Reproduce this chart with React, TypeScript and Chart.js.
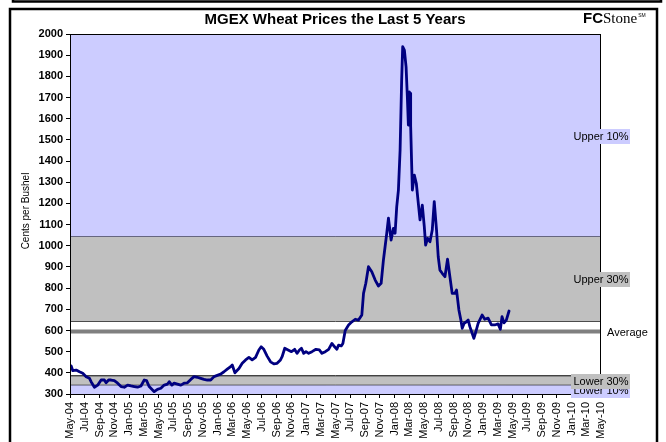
import React, { useEffect, useRef } from 'react';
import { Chart, registerables } from 'chart.js';

Chart.register(...registerables);

// ---- Data ----
const tickLabels = [
  'May-04', 'Jul-04', 'Sep-04', 'Nov-04', 'Jan-05', 'Mar-05', 'May-05', 'Jul-05', 'Sep-05', 'Nov-05',
  'Jan-06', 'Mar-06', 'May-06', 'Jul-06', 'Sep-06', 'Nov-06', 'Jan-07', 'Mar-07', 'May-07', 'Jul-07',
  'Sep-07', 'Nov-07', 'Jan-08', 'Mar-08', 'May-08', 'Jul-08', 'Sep-08', 'Nov-08', 'Jan-09', 'Mar-09',
  'May-09', 'Jul-09', 'Sep-09', 'Nov-09', 'Jan-10', 'Mar-10', 'May-10',
];

// months elapsed since May-04
const priceMonths = [
  0.16, 0.38, 0.84, 1.28, 1.73, 2.19, 2.64, 2.86, 3.31, 3.76, 4.22, 4.66, 4.89, 5.24, 5.57, 6.01, 6.46,
  6.92, 7.36, 7.81, 8.27, 8.72, 9.16, 9.62, 10.07, 10.38, 10.74, 11.19, 11.42, 11.86, 12.32, 12.77, 13.22,
  13.45, 13.81, 14.12, 14.57, 15.03, 15.47, 15.92, 16.38, 16.82, 17.27, 17.73, 18.18, 18.62, 19.08, 19.53,
  19.97, 20.43, 20.88, 21.32, 21.78, 22.0, 22.36, 22.91, 23.35, 23.81, 24.26, 24.7, 25.16, 25.61, 25.92,
  26.28, 26.73, 27.19, 27.64, 28.08, 28.54, 28.76, 29.12, 29.57, 30.03, 30.47, 30.78, 31.11, 31.38, 31.69,
  32.0, 32.36, 32.81, 33.35, 33.81, 34.16, 34.62, 35.07, 35.51, 35.88, 36.19, 36.42, 36.78, 37.0, 37.32,
  37.77, 38.22, 38.68, 39.12, 39.57, 39.8, 40.11, 40.47, 40.92, 41.38, 41.82, 42.19, 42.5, 42.95, 43.18,
  43.54, 43.85, 44.08, 44.3, 44.53, 44.76, 44.97, 45.11, 45.34, 45.57, 45.74, 45.88, 46.01, 46.11, 46.19,
  46.32, 46.42, 46.69, 46.96, 47.23, 47.46, 47.77, 48.04, 48.22, 48.49, 48.81, 49.12, 49.39, 49.7, 49.93,
  50.16, 50.47, 50.84, 51.19, 51.51, 51.82, 52.19, 52.41, 52.73, 53.0, 53.18, 53.45, 53.76, 53.99, 54.22,
  54.53, 54.76, 55.03, 55.34, 55.88, 56.24, 56.69, 57.14, 57.59, 58.04, 58.35, 58.58, 58.85, 59.16, 59.53,
];

const prices = [
  432, 410, 413, 405, 398, 382, 374, 358, 332, 342, 366, 366, 353, 366, 366, 363, 351,
  335, 332, 342, 338, 335, 332, 338, 366, 363, 335, 319, 311, 322, 327, 342, 347,
  358, 342, 351, 347, 342, 351, 353, 369, 382, 379, 374, 369, 366, 366, 382,
  388, 394, 405, 417, 429, 437, 400, 420, 445, 461, 473, 461, 473, 508, 523,
  511, 479, 452, 442, 445, 461, 476, 516, 508, 500, 511, 492, 508, 516, 492,
  500, 492, 500, 511, 508, 492, 500, 511, 539, 523, 511, 531, 527, 539, 600,
  626, 641, 653, 649, 673, 775, 823, 901, 877, 838, 810, 823, 933, 1059, 1130,
  1027, 1082, 1059, 1184, 1263, 1452, 1782, 1940, 1924, 1845, 1705, 1570, 1727, 1720, 1567,
  1393, 1263, 1334, 1294, 1200, 1122, 1192, 1090, 1003, 1035, 1019, 1074, 1208, 1074, 948,
  885, 870, 854, 937, 854, 775, 775, 791, 697, 649, 610, 634, 641, 649, 618,
  587, 563, 594, 634, 673, 653, 658, 626, 626, 631, 606, 665, 636, 649, 692,
];

const bandNames = ['Upper 10%', 'Upper 30%', 'Lower 30%', 'Lower 10%'];
const bandTops = [2000, 1044, 386, 344];
const bandBottoms = [1044, 643, 344, 300];
const averagePrice = 595;
const averageLabel = 'Average';

const xMin = 0;
const xMax = 72;
const yMin = 300;
const yMax = 2000;

const titleText = 'MGEX Wheat Prices the Last 5 Years';
const yTitle = 'Cents per Bushel';

// ---- Styles ----
const LAVENDER = '#CCCCFF';
const GRAY = '#C0C0C0';
const bandColors = [LAVENDER, GRAY, GRAY, LAVENDER];
const FONT = '"Liberation Sans", Arial, Helvetica, sans-serif';

const decorPlugin = {
  id: 'decor',
  afterDatasetsDraw(chart: any) {
    const { ctx, chartArea: a } = chart;
    const y = chart.scales.y;
    ctx.save();
    // plot border
    ctx.strokeStyle = '#000';
    ctx.lineWidth = 1;
    ctx.strokeRect(a.left + 0.5, a.top + 0.5, a.right - a.left - 1, a.bottom - a.top);

    // band labels on the right edge
    ctx.font = `11px ${FONT}`;
    ctx.textAlign = 'center';
    ctx.textBaseline = 'middle';
    for (let i = bandNames.length - 1; i >= 0; i--) {
      const mid = y.getPixelForValue((bandTops[i] + bandBottoms[i]) / 2) + (i >= 2 ? 1.5 : 1);
      const w = ctx.measureText(bandNames[i]).width + 4;
      const cx = a.right;
      ctx.fillStyle = bandColors[i];
      ctx.fillRect(Math.round(cx - w / 2), Math.round(mid - 7.5), Math.round(w), 15);
      ctx.fillStyle = '#000';
      ctx.fillText(bandNames[i], cx, mid + 0.5);
    }
    ctx.textAlign = 'left';
    ctx.fillText(averageLabel, a.right + 6, y.getPixelForValue(averagePrice) + 1);
    ctx.restore();
  },
  afterDraw(chart: any) {
    const { ctx, chartArea: a } = chart;
    ctx.save();
    // title
    ctx.fillStyle = '#000';
    ctx.font = `bold 15px ${FONT}`;
    ctx.textAlign = 'center';
    ctx.textBaseline = 'alphabetic';
    ctx.fillText(titleText, 335, 24);

    // logo
    ctx.textAlign = 'left';
    ctx.font = `900 15px ${FONT}`;
    ctx.fillText('FC', 583, 23);
    const fcw = ctx.measureText('FC').width;
    ctx.font = `15px "Liberation Serif", "Times New Roman", serif`;
    ctx.fillText('Stone', 583 + fcw, 23);
    const sw = ctx.measureText('Stone').width;
    ctx.font = `5px ${FONT}`;
    ctx.fillText('SM', 583 + fcw + sw + 1, 17);

    // y-axis title
    ctx.font = `10px ${FONT}`;
    ctx.textAlign = 'center';
    ctx.textBaseline = 'middle';
    ctx.translate(26, (a.top + a.bottom) / 2 - 3);
    ctx.rotate(-Math.PI / 2);
    ctx.fillText(yTitle, 0, 0);
    ctx.restore();

    // frames
    ctx.save();
    ctx.strokeStyle = '#000';
    ctx.lineWidth = 2.5;
    ctx.strokeRect(10, 9, 647, 460);
    ctx.beginPath();
    ctx.moveTo(13, -5);
    ctx.lineTo(13, 1.5);
    ctx.lineTo(661, 1.5);
    ctx.lineTo(661, -5);
    ctx.stroke();
    ctx.restore();
  },
};

export default function App() {
  const ref = useRef<HTMLCanvasElement | null>(null);

  useEffect(() => {
    if (!ref.current) return;
    const flat = (v: number) => [{ x: xMin, y: v }, { x: xMax, y: v }];
    const bandSets: any[] = [];
    bandNames.forEach((name, i) => {
      bandSets.push({
        label: name,
        data: flat(bandTops[i]),
        borderColor: '#000',
        borderWidth: 1,
        backgroundColor: bandColors[i],
        fill: { value: bandBottoms[i] },
        pointRadius: 0,
      });
      bandSets.push({
        label: name + ' bottom',
        data: flat(bandBottoms[i]),
        borderColor: '#000',
        borderWidth: 1,
        fill: false,
        pointRadius: 0,
      });
    });

    const chart = new Chart(ref.current, {
      type: 'line',
      data: {
        datasets: [
          {
            label: 'MGEX Wheat',
            data: priceMonths.map((m, i) => ({ x: m, y: prices[i] })),
            borderColor: '#000080',
            borderWidth: 2.8,
            borderJoinStyle: 'round',
            borderCapStyle: 'round',
            pointRadius: 0,
            tension: 0,
            fill: false,
          },
          {
            label: averageLabel,
            data: flat(averagePrice),
            borderColor: '#808080',
            borderWidth: 4,
            pointRadius: 0,
            fill: false,
          },
          ...bandSets,
        ],
      },
      plugins: [decorPlugin],
      options: {
        responsive: false,
        animation: false,
        devicePixelRatio: 1,
        layout: { padding: { left: 12, right: 65, top: 34, bottom: 0 } },
        plugins: {
          legend: { display: false },
          tooltip: { enabled: false },
          title: { display: false },
        },
        events: [],
        scales: {
          x: {
            type: 'linear',
            min: xMin,
            max: xMax,
            afterFit: (s: any) => {
              s.height = 48;
            },
            afterBuildTicks: (s: any) => {
              s.ticks = tickLabels.map((_, i) => ({ value: i * 2 }));
            },
            ticks: {
              autoSkip: false,
              maxRotation: 90,
              minRotation: 90,
              padding: 4,
              color: '#000',
              font: { family: FONT, size: 11 },
              callback: (v: any) => tickLabels[Math.round(Number(v) / 2)] ?? '',
            },
            grid: { drawOnChartArea: false, drawTicks: true, tickLength: 4, color: '#000' },
            border: { color: '#000', width: 1 },
          },
          y: {
            type: 'linear',
            min: yMin,
            max: yMax,
            afterFit: (s: any) => {
              s.width = 58;
            },
            ticks: {
              stepSize: 100,
              padding: 3,
              color: '#000',
              font: { family: FONT, size: 11, weight: 'bold' },
              callback: (v: any) => String(v),
            },
            grid: { drawOnChartArea: false, drawTicks: true, tickLength: 4, color: '#000' },
            border: { color: '#000', width: 1 },
          },
        },
      } as any,
    });
    return () => chart.destroy();
  }, []);

  return (
    <div style={{ position: 'fixed', left: 0, top: 0, width: 666, height: 442, background: '#fff' }}>
      <canvas ref={ref} width={666} height={442} style={{ display: 'block' }} />
    </div>
  );
}
